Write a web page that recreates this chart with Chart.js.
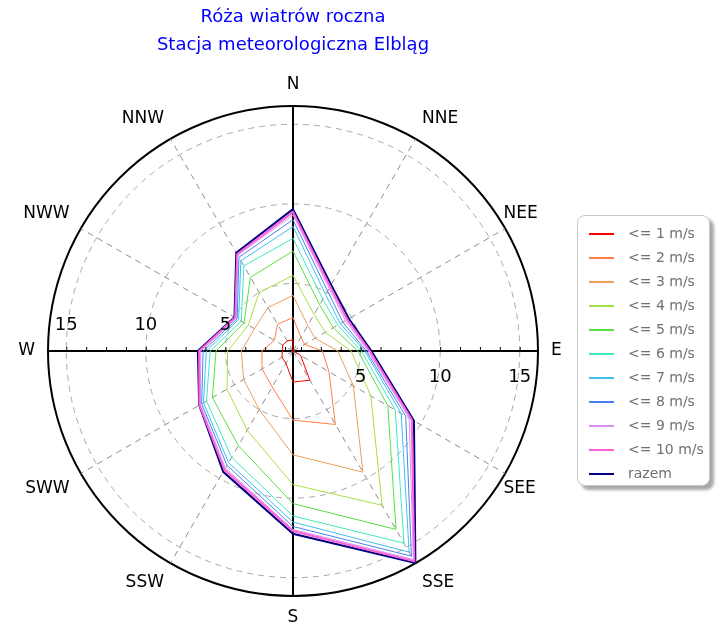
<!DOCTYPE html>
<html>
<head>
<meta charset="utf-8">
<script src="https://cdn.jsdelivr.net/npm/chart.js@4.4.1/dist/chart.umd.min.js"></script>
<style>
  html, body { margin: 0; padding: 0; background: #fff; }
  #wrap { position: relative; width: 721px; height: 628px; }
  #legend {
    position: absolute; left: 577px; top: 215px; width: 131px; height: 269px;
    border: 1px solid #c8c8c8; border-radius: 8px; background: #fff;
    box-shadow: 4px 4px 3px #a8a8a8;
    font: 14px "DejaVu Sans", Verdana, sans-serif; color: #707070;
  }
  .row { position: absolute; left: 0; width: 130px; height: 24px; }
  .swatch { position: absolute; left: 11px; top: 11px; width: 25px; height: 2px; }
  .lbl { position: absolute; left: 50px; top: 3px; white-space: nowrap; }
</style>
</head>
<body>
<div id="wrap">
  <canvas id="rose" width="721" height="628"></canvas>
  <div id="legend"></div>
</div>
<script>
const directions = ['N', 'NNE', 'NEE', 'E', 'SEE', 'SSE', 'S', 'SSW', 'SWW', 'W', 'NWW', 'NNW'];
const seriesNames = ['<= 1 m/s', '<= 2 m/s', '<= 3 m/s', '<= 4 m/s', '<= 5 m/s', '<= 6 m/s',
                     '<= 7 m/s', '<= 8 m/s', '<= 9 m/s', '<= 10 m/s', 'razem'];
const seriesColors = ['#ff0000', '#ff7f48', '#eca058', '#a6e040', '#58e040', '#40e8c0',
                      '#40c0f0', '#4880f0', '#d890f0', '#ff60d8', '#000080'];

// cumulative frequency per direction (N .. NNW)
const upTo1  = [1.45, 0.75, 0.72, 0.78, 1.30, 2.87, 2.70, 1.64, 1.55, 1.42, 1.50, 1.48];
const upTo2  = [2.85, 1.75, 1.59, 2.60, 3.36, 6.08, 5.10, 3.36, 3.00, 2.70, 2.10, 2.70];
const upTo3  = [4.25, 2.60, 2.35, 3.57, 5.13, 9.54, 7.28, 5.00, 4.33, 4.00, 3.55, 3.90];
const upTo4  = [5.50, 3.40, 3.10, 4.40, 6.40, 11.95, 9.15, 6.50, 5.54, 4.86, 4.00, 5.00];
const upTo5  = [7.03, 4.10, 3.67, 4.83, 7.63, 13.70, 10.34, 7.62, 6.60, 5.59, 4.30, 6.10];
const upTo6  = [7.83, 4.50, 4.00, 5.05, 8.17, 14.70, 11.12, 8.47, 7.03, 5.95, 4.50, 6.93];
const upTo7  = [8.57, 4.85, 4.18, 5.26, 8.60, 15.35, 11.50, 8.85, 7.25, 6.20, 4.70, 7.30];
const upTo8  = [9.00, 5.10, 4.37, 5.36, 8.93, 15.64, 11.78, 9.05, 7.38, 6.40, 4.80, 7.55];
const upTo9  = [9.30, 5.30, 4.56, 5.47, 9.18, 15.88, 11.97, 9.25, 7.47, 6.55, 4.88, 7.70];
const upTo10 = [9.48, 5.42, 4.69, 5.57, 9.37, 16.00, 12.07, 9.37, 7.54, 6.65, 4.95, 7.77];
const total  = [9.67, 5.55, 4.81, 5.68, 9.53, 16.14, 12.24, 9.52, 7.56, 6.73, 5.00, 7.88];

const seriesValues = [upTo1, upTo2, upTo3, upTo4, upTo5, upTo6, upTo7, upTo8, upTo9, upTo10, total];
const scaleMin = 0.75;
const scaleMax = 16.15;
const ringValues = [5, 10, 15];

const fontFamily = '"DejaVu Sans", Verdana, sans-serif';

document.addEventListener('DOMContentLoaded', function() {
    buildLegend();
    initRose();
});

function buildLegend() {
    const box = document.getElementById('legend');
    seriesNames.forEach((name, i) => {
        const row = document.createElement('div');
        row.className = 'row';
        row.style.top = (6 + i * 24) + 'px';
        row.innerHTML = '<div class="swatch" style="background:' + seriesColors[i] + '"></div>' +
                        '<div class="lbl"></div>';
        row.querySelector('.lbl').textContent = name;
        box.appendChild(row);
    });
}

// direction names, ring numbers and axis ticks
const roseDecor = {
    id: 'roseDecor',
    afterDraw(chart) {
        const r = chart.scales.r;
        const ctx = chart.ctx;
        const cx = r.xCenter, cy = r.yCenter;
        ctx.save();
        ctx.fillStyle = '#000';
        ctx.font = '17px ' + fontFamily;

        directions.forEach((name, i) => {
            const angle = i * 30;
            const p = r.getPointPosition(i, r.drawingArea + 13);
            let x = p.x;
            if (angle === 60 || angle === 120) x -= 13;
            ctx.textAlign = (angle === 0 || angle === 180) ? 'center' : (angle < 180 ? 'left' : 'right');
            ctx.textBaseline = (angle === 90 || angle === 270) ? 'middle'
                : (angle < 90 || angle > 270 ? 'bottom' : 'top');
            ctx.fillText(name, x, p.y);
        });

        ctx.font = '18px ' + fontFamily;
        ctx.textAlign = 'center';
        ctx.textBaseline = 'middle';
        ringValues.forEach(v => {
            const d = r.getDistanceFromCenterForValue(v);
            ctx.fillText(String(v), cx - d, cy - 26);
            ctx.fillText(String(v), cx + d, cy + 26);
        });

        ctx.strokeStyle = '#000';
        ctx.lineWidth = 1;
        for (let v = 1.25; v < scaleMax; v += 1.25) {
            const d = r.getDistanceFromCenterForValue(v);
            ctx.beginPath();
            ctx.moveTo(cx - d + 0.5, cy);
            ctx.lineTo(cx - d + 0.5, cy - 4);
            ctx.moveTo(cx + d + 0.5, cy);
            ctx.lineTo(cx + d + 0.5, cy - 4);
            ctx.stroke();
        }
        ctx.restore();
    }
};

function initRose() {
    const canvas = document.getElementById('rose');
    const ctx = canvas.getContext('2d');

    const datasets = seriesNames.map((name, i) => ({
        label: name,
        data: seriesValues[i],
        borderColor: seriesColors[i],
        backgroundColor: 'transparent',
        borderWidth: (i >= 9) ? 2 : 1,
        pointRadius: 0,
        tension: 0,
        fill: false
    }));

    new Chart(ctx, {
        type: 'radar',
        data: { labels: directions, datasets: datasets },
        options: {
            responsive: false,
            animation: false,
            devicePixelRatio: 1,
            layout: { padding: { left: 48, right: 183, top: 0, bottom: 32 } },
            plugins: {
                legend: { display: false },
                tooltip: { enabled: false },
                title: {
                    display: true,
                    text: ['Róża wiatrów roczna', 'Stacja meteorologiczna Elbląg'],
                    color: '#0000ff',
                    font: { family: fontFamily, size: 18, weight: 'normal', lineHeight: '28px' },
                    padding: { top: 3, bottom: 47 }
                }
            },
            scales: {
                r: {
                    min: scaleMin,
                    max: scaleMax,
                    afterBuildTicks: function(scale) {
                        scale.ticks = [scaleMin].concat(ringValues, [scaleMax]).map(v => ({ value: v }));
                    },
                    ticks: { display: false },
                    pointLabels: { display: false },
                    grid: {
                        circular: true,
                        color: c => c.tick && c.tick.value >= scaleMax ? '#000' : '#a8a8a8',
                        lineWidth: c => c.tick && c.tick.value >= scaleMax ? 2 : 1
                    },
                    border: {
                        dash: c => c.tick && c.tick.value >= scaleMax ? [] : [6, 5]
                    },
                    angleLines: {
                        color: c => c.index % 3 === 0 ? '#000' : '#8c8c8c',
                        lineWidth: c => c.index % 3 === 0 ? 2 : 1,
                        borderDash: c => c.index % 3 === 0 ? [] : [6, 5]
                    }
                }
            }
        },
        plugins: [roseDecor]
    });
}
</script>
</body>
</html>
